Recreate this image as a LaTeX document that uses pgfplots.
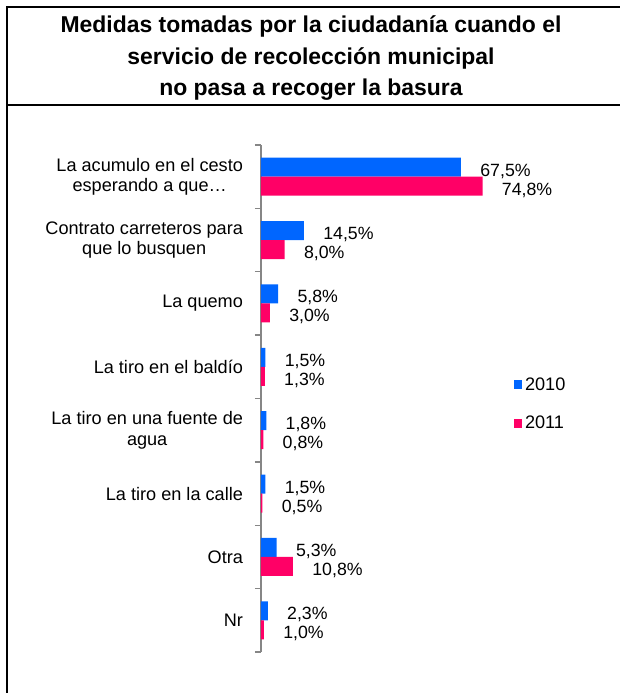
\documentclass[border=0pt]{standalone}
\usepackage{fontspec}
\setmainfont{Liberation Sans}
\usepackage{pgfplots}
\pgfplotsset{compat=1.18}
\definecolor{c2010}{RGB}{0,102,255}
\definecolor{c2011}{RGB}{255,0,102}
\definecolor{axgray}{RGB}{134,134,134}

\begin{document}
\begin{tikzpicture}
% frame of the picture (620 x 693 px at 0.75pt per px)
\useasboundingbox (0pt,0pt) rectangle (465pt,519.75pt);
\draw[line width=1.5pt] (4.9pt,-5pt) -- (4.9pt,514.5pt) -- (470pt,514.5pt);
\draw[line width=1.5pt] (4.9pt,441pt) -- (470pt,441pt);
\node[font=\bfseries\fontsize{17.2}{23.5}\selectfont, align=center] at (233.25pt,476pt)
  {Medidas tomadas por la ciudadanía cuando el\\servicio de recolección municipal\\no pasa a recoger la basura};

\begin{axis}[
  at={(195.75pt,30.75pt)}, anchor=south west,
  scale only axis,
  width=222.2pt, height=380.25pt,
  xbar,
  bar width=0.30,
  xmin=0, xmax=100,
  ymin=-0.5, ymax=7.5,
  hide x axis,
  axis y line*=left,
  y axis line style={axgray, line width=1pt},
  ytick={0,...,7},
  yticklabels={Nr, Otra, La tiro en la calle, {La tiro en una fuente de\\agua},
    La tiro en el baldío, La quemo, {Contrato carreteros para\\que lo busquen},
    {La acumulo en el cesto\\esperando a que…}},
  yticklabel style={align=center, font=\fontsize{13.6}{15.5}\selectfont, xshift=-10pt},
  major tick length=0pt,
  extra y ticks={-0.5,0.5,...,7.5},
  extra y tick labels={},
  extra y tick style={major tick length=4.5pt, tick align=outside,
    tick style={axgray, line width=1pt}},
  nodes near coords,
  point meta=explicit symbolic,
  nodes near coords style={anchor=west, font=\fontsize{13.3}{15}\selectfont,
    xshift=11pt, yshift=-3pt},
  legend image code/.code={\fill[#1, draw=none] (0pt,-3.2pt) rectangle (6.5pt,3.2pt);},
  legend style={at={(0.852,0.489)}, anchor=west, draw=none, fill=none,
    font=\fontsize{13.6}{15}\selectfont, row sep=14pt, inner sep=0pt},
  legend cell align=left,
]
\addplot[fill=c2010, draw=none, bar shift=0.15] coordinates {
  (67.5,7) [67,5\%]
  (14.5,6) [14,5\%]
  (5.8,5) [5,8\%]
  (1.5,4) [1,5\%]
  (1.8,3) [1,8\%]
  (1.5,2) [1,5\%]
  (5.3,1) [5,3\%]
  (2.3,0) [2,3\%]
};
\addplot[fill=c2011, draw=none, bar shift=-0.15] coordinates {
  (74.8,7) [74,8\%]
  (8.0,6) [8,0\%]
  (3.0,5) [3,0\%]
  (1.3,4) [1,3\%]
  (0.8,3) [0,8\%]
  (0.5,2) [0,5\%]
  (10.8,1) [10,8\%]
  (1.0,0) [1,0\%]
};
\legend{2010, 2011}
\end{axis}
\end{tikzpicture}
\end{document}
